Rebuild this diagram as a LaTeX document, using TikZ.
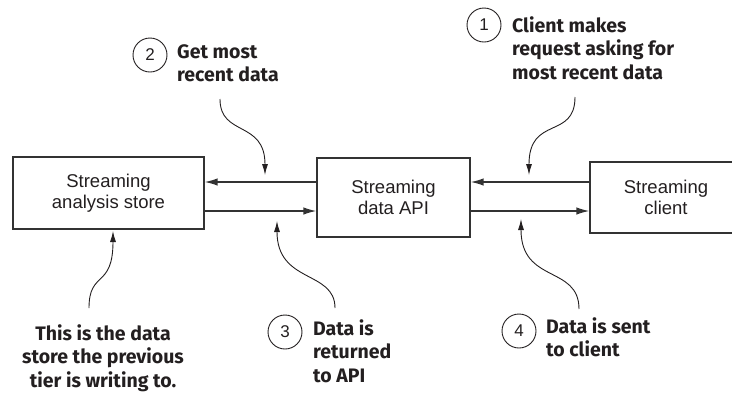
\documentclass[tikz,border=0pt]{standalone}
\usepackage{fontspec}
\setmainfont{Liberation Sans}
\newfontfamily\notefont{Fira Sans}
\usetikzlibrary{arrows.meta}
\definecolor{ink}{HTML}{231F20}
\definecolor{linec}{HTML}{333333}
\begin{document}
\begin{tikzpicture}[x=1pt,y=-1pt,
  box/.style={draw=linec, line width=1.3pt, rectangle, inner sep=0pt, align=center,
    text=ink, font=\fontsize{18.5}{21}\selectfont},
  flow/.style={draw=linec, line width=1.4pt, -{Latex[length=13pt,width=7.5pt]}},
  callout/.style={draw=ink, line width=0.9pt, -{Latex[length=11pt,width=6pt]}},
  num/.style={circle, draw=ink, line width=0.9pt, minimum size=34pt, inner sep=0pt,
    text=ink, font=\fontsize{17}{17}\selectfont},
  note/.style={inner sep=0pt, text=ink, font=\notefont\bfseries\fontsize{19.5}{23.5}\selectfont}
]
\clip (0,0) rectangle (732,392);

% boxes
\node[box, minimum width=191pt, minimum height=72pt] (store) at (108.5,193) {Streaming\\analysis store};
\node[box, minimum width=153pt, minimum height=79pt] (api) at (393.5,197.5) {Streaming\\data API};
\node[box, minimum width=152pt, minimum height=71pt] (client) at (666,197.5) {Streaming\\client};

% flow arrows
\coordinate (up) at (0,182);
\coordinate (dn) at (0,211);
\draw[flow] (api.west |- up) -- (store.east |- up);
\draw[flow] (store.east |- dn) -- (api.west |- dn);
\draw[flow] (client.west |- up) -- (api.east |- up);
\draw[flow] (api.east |- dn) -- (client.west |- dn);

% labels
\node[num] (n1) at (484,25) {1};
\node[note, anchor=base west] (t1) at (512,32) {\vtop{\hbox{Client makes}\hbox{request asking for}\hbox{most recent data}}};
\node[num] (n2) at (150,55) {2};
\node[note, anchor=base west] (t2) at (177,58) {\vtop{\hbox{Get most}\hbox{recent data}}};
\node[num] (n3) at (285,332) {3};
\node[note, anchor=base west] (t3) at (313,335) {\vtop{\hbox{Data is}\hbox{returned}\hbox{to API}}};
\node[num] (n4) at (519,331) {4};
\node[note, anchor=base west] (t4) at (546,333) {\vtop{\hbox{Data is sent}\hbox{to client}}};
\node[note, anchor=base] (t5) at (103,340) {\vtop{\halign{\hfil#\hfil\cr This is the data\cr store the previous\cr tier is writing to.\cr}}};

% callout connectors
\coordinate (c1s) at (575,97);  \coordinate (c1e) at (529,175);
\coordinate (c2s) at (220,99);  \coordinate (c2e) at (265,175);
\coordinate (c3s) at (335,308); \coordinate (c3e) at (277,221);
\coordinate (c4s) at (579,309); \coordinate (c4e) at (521,219);
\coordinate (c5s) at (89,308);  \coordinate (c5e) at (113,231);
\draw[callout] (c1s) .. controls +(0,43) and +(0,-60) .. (c1e);
\draw[callout] (c2s) .. controls +(0,38) and +(0,-55) .. (c2e);
\draw[callout] (c3s) .. controls +(0,-38) and +(0,63) .. (c3e);
\draw[callout] (c4s) .. controls +(0,-44) and +(0,65) .. (c4e);
\draw[callout] (c5s) .. controls +(0,-38) and +(0,58) .. (c5e);
\end{tikzpicture}
\end{document}
